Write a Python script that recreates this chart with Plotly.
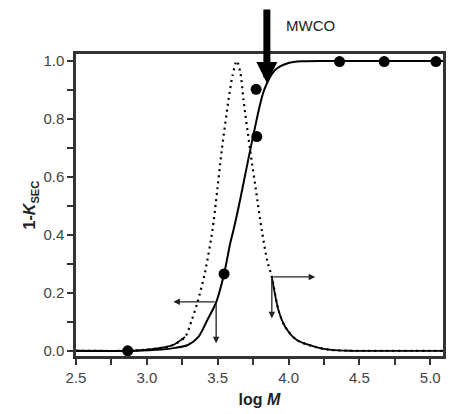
import plotly.graph_objects as go

# ---- data ----
point_logM = [2.865, 3.545, 3.776, 3.771, 4.36, 4.675, 5.04]
point_val = [0.0, 0.265, 0.739, 0.902, 0.998, 0.998, 0.998]

solid_x = [2.5, 2.9, 3.1, 3.2, 3.29, 3.364, 3.427, 3.489, 3.545, 3.588, 3.611, 3.645,
           3.682, 3.752, 3.828, 3.905, 4.0, 4.1, 4.3, 5.09]
solid_y = [0.0, 0.0, 0.004, 0.01, 0.02, 0.048, 0.106, 0.167, 0.265, 0.37, 0.416, 0.49,
           0.578, 0.745, 0.90, 0.969, 0.993, 0.999, 1.0, 1.0]

dist_x = [2.5, 2.9, 3.0, 3.1, 3.185, 3.27, 3.317, 3.357, 3.41, 3.463, 3.489, 3.529,
          3.576, 3.605, 3.635, 3.66, 3.682, 3.729, 3.78, 3.811, 3.85, 3.882, 3.929,
          3.976, 4.058, 4.2, 4.3, 4.45, 5.09]
dist_y = [0.0, 0.0, 0.004, 0.01, 0.02, 0.048, 0.106, 0.167, 0.27, 0.416, 0.52, 0.693,
          0.865, 0.95, 1.0, 0.96, 0.865, 0.693, 0.52, 0.416, 0.31, 0.255, 0.14,
          0.083, 0.037, 0.012, 0.003, 0.0, 0.0]

x_ticks = [2.5, 3.0, 3.5, 4.0, 4.5, 5.0]
y_ticks = [0.0, 0.2, 0.4, 0.6, 0.8, 1.0]

mwco_logM = 3.847
mwco_val = 0.924

FONT = "Liberation Sans, Arial, sans-serif"

fig = go.Figure()

# dotted distribution curve
fig.add_trace(go.Scatter(x=dist_x, y=dist_y, mode="lines",
                         line=dict(color="black", width=2.2, dash="2px,4px", shape="spline", smoothing=0.8),
                         hoverinfo="skip", showlegend=False))
# the dense tails of the distribution look solid
left_tail = [(x, y) for x, y in zip(dist_x, dist_y) if x <= 3.27]
right_tail = [(x, y) for x, y in zip(dist_x, dist_y) if x >= 3.882]
for tail in (left_tail, right_tail):
    fig.add_trace(go.Scatter(x=[t[0] for t in tail], y=[t[1] for t in tail], mode="lines",
                             line=dict(color="black", width=1.8, shape="spline", smoothing=0.8),
                             hoverinfo="skip", showlegend=False))

# solid 1-K curve
fig.add_trace(go.Scatter(x=solid_x, y=solid_y, mode="lines",
                         line=dict(color="black", width=2, shape="spline", smoothing=0.8),
                         showlegend=False))

# data points
fig.add_trace(go.Scatter(x=point_logM, y=point_val, mode="markers",
                         marker=dict(color="black", size=11),
                         showlegend=False))

annotations = []
# MWCO arrow
annotations.append(dict(x=mwco_logM, y=mwco_val, xref="x", yref="y", ax=0, ay=-80,
                        showarrow=True, arrowhead=2, arrowwidth=7, arrowsize=0.6,
                        arrowcolor="black", text=""))
annotations.append(dict(x=4.152, y=1.096, xref="x", yref="paper", text="MWCO",
                        xanchor="center", yanchor="middle",
                        showarrow=False, font=dict(family=FONT, size=15, color="#222")))

# thin arrows
thin = [
    (3.187, 0.169, 3.489, 0.169),
    (3.489, 0.026, 3.489, 0.169),
    (4.188, 0.255, 3.882, 0.255),
    (3.882, 0.112, 3.882, 0.255),
]
for hx, hy, tx, ty in thin:
    annotations.append(dict(x=hx, y=hy, ax=tx, ay=ty, xref="x", yref="y", axref="x", ayref="y",
                            showarrow=True, arrowhead=2, arrowwidth=1.3, arrowsize=1.0,
                            arrowcolor="#222", text=""))

# right axis label (cut off at the edge, as in the reference)
annotations.append(dict(x=1.05, y=0.573, xref="paper", yref="paper",
                        text="<b>d(1-<i>K</i><sub>SEC</sub>) / d log <i>M</i></b>",
                        textangle=90, showarrow=False, xanchor="center", yanchor="middle",
                        font=dict(family=FONT, size=14, color="#222")))

fig.update_layout(
    width=459, height=414,
    margin=dict(l=68, r=24, t=46, b=66, autoexpand=False),
    paper_bgcolor="white", plot_bgcolor="white",
    font=dict(family=FONT, size=15, color="#444"),
    annotations=annotations,
    showlegend=False,
)

fig.update_xaxes(
    range=[2.5, 5.09], tickvals=x_ticks, ticktext=[f"{v:.1f}" for v in x_ticks],
    ticks="outside", ticklen=6, tickwidth=2, tickcolor="#333",
    minor=dict(dtick=0.25, tick0=2.5, ticks="outside", ticklen=6, tickwidth=2, tickcolor="#333"),
    showline=True, linewidth=2.5, linecolor="#333", mirror=True,
    showgrid=False, zeroline=False, automargin=False,
    tickfont=dict(family=FONT, size=15, color="#444"),
    title=dict(text="<b>log <i>M</i></b>", standoff=10,
               font=dict(family=FONT, size=16, color="#222")),
)
fig.update_yaxes(
    range=[-0.018, 1.024], tickvals=y_ticks, ticktext=[f"{v:.1f}" for v in y_ticks],
    ticks="outside", ticklen=6, tickwidth=2, tickcolor="#333",
    minor=dict(dtick=0.1, tick0=0, ticks="outside", ticklen=6, tickwidth=2, tickcolor="#333"),
    showline=True, linewidth=2.5, linecolor="#333", mirror=True,
    showgrid=False, zeroline=False, automargin=False,
    tickfont=dict(family=FONT, size=15, color="#444"),
    title=dict(text="<b>1-<i>K</i><sub>SEC</sub></b>", standoff=4,
               font=dict(family=FONT, size=16, color="#222")),
)

fig.write_html("out.html")
